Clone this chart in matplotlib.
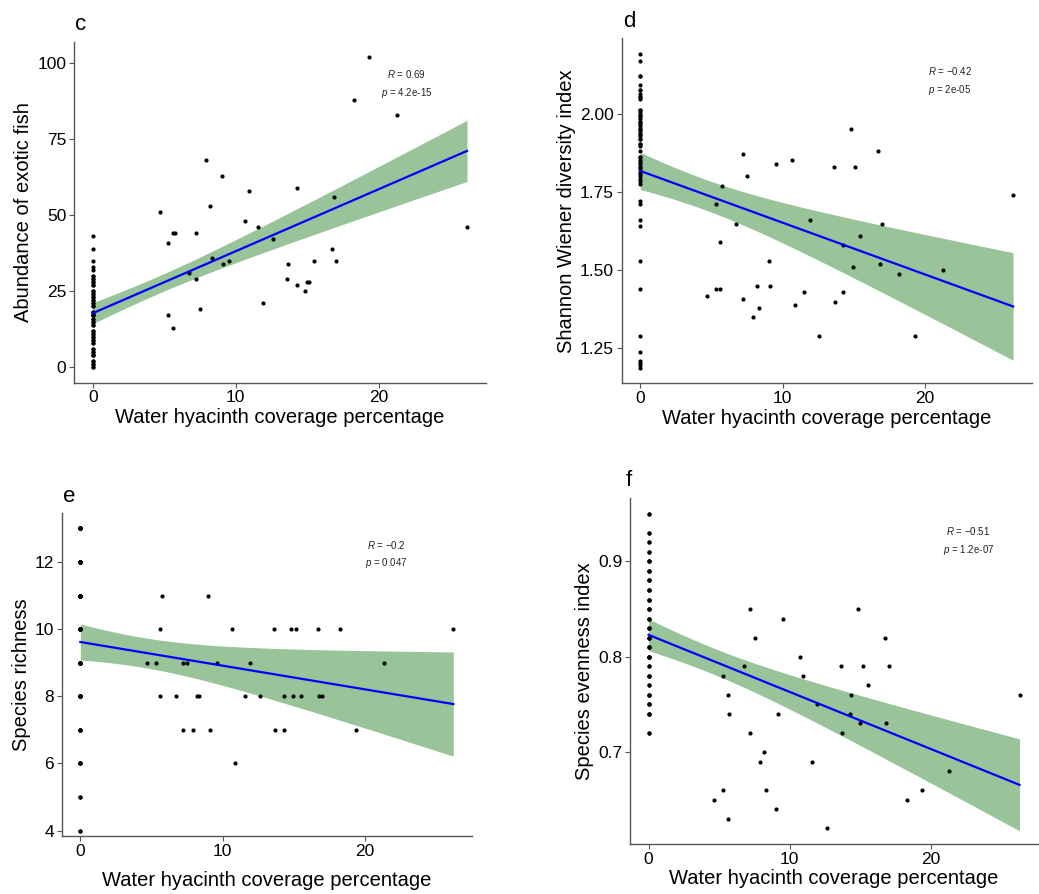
import numpy as np
import matplotlib
matplotlib.use("Agg")
import matplotlib.pyplot as plt
from matplotlib.ticker import FormatStrFormatter

plt.rcParams['font.family'] = ['Liberation Sans', 'DejaVu Sans']
plt.rcParams['mathtext.fontset'] = 'custom'
plt.rcParams['mathtext.rm'] = 'Liberation Sans'
plt.rcParams['mathtext.it'] = 'Liberation Sans:italic'

# sites with no water hyacinth (x = 0) overlap a lot, so duplicates are estimated

# panel c: abundance of exotic fish
c_zero = [43, 39, 35, 33, 32, 30, 29, 28, 27, 25, 24, 23, 22, 21, 20, 18, 17, 16,
          15, 14, 12, 11, 10, 9, 8, 6, 5, 4, 4, 2, 1, 0,
          0, 1, 2, 4, 5, 6, 8, 9, 10, 11, 12, 14, 15, 16, 17, 18, 20, 21, 22, 23,
          24, 25, 27, 28, 29, 30, 17, 17]
c_x = [4.70, 5.28, 5.63, 5.77, 7.24, 5.28, 5.63, 6.75, 7.24, 7.48, 7.94, 8.20, 8.34,
       9.04, 9.14, 9.56, 10.68, 10.91, 11.57, 11.94, 12.62, 13.69, 13.62, 14.28,
       14.32, 14.84, 14.98, 15.12, 15.49, 16.75, 16.85, 16.99, 18.27, 19.32,
       21.31, 26.19]
c_y = [51, 41, 44, 44, 44, 17, 13, 31, 29, 19, 68, 53, 36, 63, 34, 35, 48, 58, 46,
       21, 42, 34, 29, 59, 27, 25, 28, 28, 35, 39, 56, 35, 88, 102, 83, 46]

# panel d: Shannon Wiener diversity index
d_zero = [2.194, 2.172, 2.122, 2.093, 2.077, 2.064, 2.055, 2.049, 2.015, 2.007,
          1.999, 1.991, 1.984, 1.976, 1.969, 1.962, 1.954, 1.946, 1.938, 1.931,
          1.922, 1.906, 1.898, 1.882, 1.863, 1.855, 1.847, 1.840, 1.831, 1.824,
          1.815, 1.808, 1.801, 1.793, 1.785, 1.778, 1.721, 1.714, 1.661, 1.641,
          1.530, 1.439, 1.289, 1.238, 1.210, 1.204, 1.196, 1.188,
          1.922, 2.122, 2.077, 2.055, 2.015, 1.999, 1.976, 1.954, 1.938, 1.906,
          1.863, 1.831]
d_x = [4.70, 5.31, 5.31, 5.61, 5.73, 5.61, 6.71, 7.18, 7.18, 7.46, 7.91, 8.16, 8.33,
       9.01, 9.12, 9.50, 10.64, 10.85, 11.51, 11.88, 12.56, 13.57, 13.68, 14.25,
       14.25, 14.78, 14.92, 15.11, 15.44, 16.70, 16.80, 16.96, 18.20, 19.27,
       21.24, 26.18]
d_y = [1.418, 1.711, 1.439, 1.439, 1.771, 1.590, 1.650, 1.872, 1.409, 1.803, 1.349,
       1.450, 1.379, 1.530, 1.450, 1.842, 1.853, 1.390, 1.429, 1.660, 1.289, 1.831,
       1.399, 1.429, 1.580, 1.952, 1.510, 1.831, 1.609, 1.882, 1.520, 1.650, 1.489,
       1.289, 1.500, 1.741]

# panel e: species richness
e_zero = [4, 4, 5, 5, 6, 6, 6, 6, 7, 7, 7, 7, 8, 8, 8, 8, 8, 8, 8,
          9, 9, 9, 9, 9, 9, 9, 10, 10, 10, 10, 10, 10, 10,
          11, 11, 11, 11, 11, 11, 11, 11, 11, 12, 12, 12, 12, 12, 12, 12, 12, 12,
          13, 13, 13, 13, 13, 13, 13, 13, 13]
e_x = [4.71, 5.29, 5.60, 5.74, 5.60, 6.72, 7.21, 7.52, 7.21, 7.94, 8.17, 8.34, 8.99,
       9.13, 9.58, 10.66, 10.89, 11.55, 11.94, 12.60, 13.61, 13.70, 14.29, 14.31,
       14.80, 15.13, 14.96, 15.48, 16.72, 16.79, 16.96, 18.27, 19.34, 21.31, 26.21]
e_y = [9, 9, 10, 11, 8, 8, 9, 9, 7, 7, 8, 8, 11, 7, 9, 10, 6, 8, 9, 8, 10, 7, 7, 8,
       10, 10, 8, 8, 10, 8, 8, 10, 7, 9, 10]

# panel f: species evenness index
f_zero = [0.95, 0.93, 0.92, 0.91, 0.90, 0.89, 0.88, 0.87, 0.86, 0.85, 0.84, 0.83,
          0.82, 0.81, 0.80, 0.79, 0.78, 0.77, 0.76, 0.75, 0.74, 0.72,
          0.93, 0.92, 0.91, 0.90, 0.89, 0.88, 0.87, 0.86, 0.85, 0.84, 0.83, 0.82,
          0.81, 0.80, 0.79, 0.78, 0.77, 0.76, 0.75, 0.74,
          0.72, 0.74, 0.75, 0.76, 0.78, 0.80, 0.81, 0.82, 0.83, 0.84, 0.85, 0.86,
          0.87, 0.88, 0.89, 0.90, 0.80, 0.95]
f_x = [4.65, 5.29, 5.29, 5.61, 5.61, 5.72, 6.73, 7.21, 7.21, 7.51, 7.89, 8.15, 8.33,
       9.02, 9.13, 9.54, 10.69, 10.92, 11.56, 11.92, 12.63, 13.64, 13.71, 14.28,
       14.32, 14.83, 14.99, 15.15, 15.52, 16.75, 16.82, 17.03, 18.28, 19.36,
       21.30, 26.27]
f_y = [0.65, 0.78, 0.66, 0.76, 0.63, 0.74, 0.79, 0.85, 0.72, 0.82, 0.69, 0.70, 0.66,
       0.64, 0.74, 0.84, 0.80, 0.78, 0.69, 0.75, 0.62, 0.79, 0.72, 0.74, 0.76, 0.85,
       0.73, 0.79, 0.77, 0.82, 0.73, 0.79, 0.65, 0.66, 0.68, 0.76]

panels = [
    ("c", c_zero, c_x, c_y, "Abundance of exotic fish", [0, 25, 50, 75, 100], None,
     "0.69", "4.2e-15", [0.0712, 0.572, 0.3963, 0.3814], (0.072, 0.973), (0.808, 0.905), 0.05, 2),
    ("d", d_zero, d_x, d_y, "Shannon Wiener diversity index", [1.25, 1.50, 1.75, 2.00], "%.2f",
     "\u22120.42", "2e-05", [0.5984, 0.5712, 0.3946, 0.3862], (0.5996, 0.976), (0.80, 0.905), 0.05, 2),
    ("e", e_zero, e_x, e_y, "Species richness", [4, 6, 8, 10, 12], None,
     "\u22120.2", "0.047", [0.0594, 0.0649, 0.3948, 0.361], (0.0606, 0.445), (0.792, 0.902), 0.018, 9),
    ("f", f_zero, f_x, f_y, "Species evenness index", [0.7, 0.8, 0.9], "%.1f",
     "\u22120.51", "1.2e-07", [0.6064, 0.0559, 0.3927, 0.387], (0.6025, 0.462), (0.829, 0.905), 0.05, 2),
]

fig = plt.figure(figsize=(10.39, 8.94), dpi=100)

for (letter, zero, xs, ys, ylab, yticks, fmt, rtxt, ptxt, pos, lpos, tpos,
     ypad_lo, xlpad) in panels:
    ax = fig.add_axes(pos)
    x = np.array([0.0] * len(zero) + xs)
    y = np.array(zero + ys)

    # linear fit with 95% confidence band
    n = len(x)
    b, a = np.polyfit(x, y, 1)
    xg = np.linspace(x.min(), x.max(), 100)
    yg = a + b * xg
    resid = y - (a + b * x)
    s = np.sqrt(np.sum(resid ** 2) / (n - 2))
    se = s * np.sqrt(1 / n + (xg - x.mean()) ** 2 / np.sum((x - x.mean()) ** 2))
    ax.fill_between(xg, yg - 1.99 * se, yg + 1.99 * se, color='#99c49a', lw=0, zorder=1)
    ax.scatter(x, y, s=9, c='black', lw=0, zorder=2)
    ax.plot(xg, yg, color='#0000ff', lw=1.6, zorder=3)

    xr = x.max() - x.min()
    yr = y.max() - y.min()
    ax.set_xlim(x.min() - 0.05 * xr, x.max() + 0.05 * xr)
    ax.set_ylim(y.min() - ypad_lo * yr, y.max() + 0.05 * yr)
    ax.set_xticks([0, 10, 20])
    ax.set_yticks(yticks)
    if fmt:
        ax.yaxis.set_major_formatter(FormatStrFormatter(fmt))

    for side in ['top', 'right']:
        ax.spines[side].set_visible(False)
    for side in ['left', 'bottom']:
        ax.spines[side].set_color('#555555')
        ax.spines[side].set_linewidth(1.0)
    ax.tick_params(length=3.5, width=0.8, color='#555555', labelsize=12.5,
                   labelcolor='black', pad=2)
    ax.set_xlabel("Water hyacinth coverage percentage", fontsize=14.5, labelpad=xlpad)
    ax.set_ylabel(ylab, fontsize=14.5, labelpad=3)

    ax.text(tpos[0], tpos[1], "$R$ = " + rtxt, transform=ax.transAxes,
            ha='center', va='center', fontsize=7, color='#222222')
    ax.text(tpos[0], tpos[1] - 0.055, "$p$ = " + ptxt, transform=ax.transAxes,
            ha='center', va='center', fontsize=7, color='#222222')
    fig.text(lpos[0], lpos[1], letter, fontsize=16, va='center', ha='left')

fig.savefig("out.png", dpi=100)
